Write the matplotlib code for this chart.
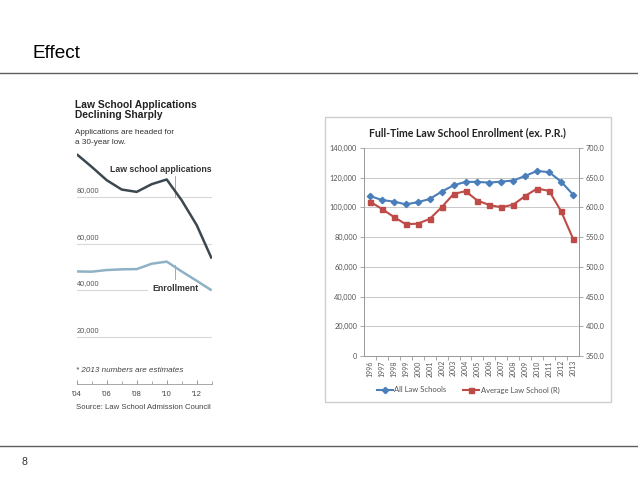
import matplotlib
matplotlib.use("Agg")
import matplotlib.pyplot as plt
from matplotlib.patches import Rectangle
from matplotlib.lines import Line2D
from matplotlib.ticker import FuncFormatter

# left chart (NYT style): applications vs first-year enrollment
nyt_years = [2004, 2005, 2006, 2007, 2008, 2009, 2010, 2011, 2012, 2013]
applications = [98200, 92800, 87100, 83100, 82100, 85400, 87400, 78500, 67900, 53600]
enrollment = [48100, 48000, 48700, 49000, 49100, 51400, 52300, 48100, 44100, 40000]
nyt_ticks = [2004, 2006, 2008, 2010, 2012]
nyt_ticklabels = ["'04", "'06", "'08", "'10", "'12"]

# right chart (Excel style): full-time enrollment
years = ["1996", "1997", "1998", "1999", "2000", "2001", "2002", "2003", "2004",
         "2005", "2006", "2007", "2008", "2009", "2010", "2011", "2012", "2013"]
all_law = [107700, 105000, 103900, 102100, 103500, 105700, 110600, 114900, 117200,
           117200, 116700, 117400, 118100, 121200, 124600, 123700, 117400, 108600]
avg_school = [609.8, 597.5, 584.0, 571.7, 572.7, 580.6, 600.3, 622.7, 627.3,
              611.5, 604.0, 600.3, 604.7, 619.4, 631.7, 627.8, 593.6, 547.5]

W, H = 638, 479
fig = plt.figure(figsize=(W / 100, H / 100), dpi=100)


def fx(px):
    return px / W


def fy(py):
    return 1 - py / H


# slide frame
fig.add_artist(Line2D([0, 1], [fy(72.5), fy(72.5)], color="#5f5f5f", lw=1.0))
fig.add_artist(Line2D([0, 1], [fy(445.5), fy(445.5)], color="#5f5f5f", lw=1.0))
fig.text(fx(33), fy(58), "Effect", fontsize=13.7, family="Liberation Sans", va="baseline")
fig.text(fx(22), fy(462), "8", fontsize=7.5, family="Liberation Sans", va="center", color="#333333")

# ---------------- left chart ----------------
nyt_font = "Liberation Sans"
fig.text(fx(75), fy(105), "Law School Applications", fontsize=7.4, fontweight="bold",
         family=nyt_font, va="center", color="#222222")
fig.text(fx(75), fy(115.5), "Declining Sharply", fontsize=7.4, fontweight="bold",
         family=nyt_font, va="center", color="#222222")
fig.text(fx(75), fy(132.5), "Applications are headed for", fontsize=5.9,
         family=nyt_font, va="center", color="#333333")
fig.text(fx(75), fy(143), "a 30-year low.", fontsize=5.9,
         family=nyt_font, va="center", color="#333333")

left, right, top, bot = 76.7, 211.7, 150.0, 384.0
axl = fig.add_axes([fx(left), fy(bot), fx(right - left), (bot - top) / H])
axl.set_xlim(2004, 2013)
axl.set_ylim(0, 100000)
for s in ["top", "right", "left"]:
    axl.spines[s].set_visible(False)
axl.spines["bottom"].set_color("#9a9a9a")
axl.spines["bottom"].set_linewidth(0.6)
axl.set_yticks([])
axl.set_xticks(nyt_ticks)
axl.set_xticks(nyt_years, minor=True)
axl.set_xticklabels(nyt_ticklabels, fontsize=5.5, family=nyt_font, color="#444444")
axl.tick_params(axis="x", which="major", direction="in", length=3, color="#8a8a8a", width=0.6, pad=5)
axl.tick_params(axis="x", which="minor", direction="in", length=2, color="#8a8a8a", width=0.5)

for val, xmax in [(80000, 1.0), (60000, 1.0), (40000, 0.52), (20000, 1.0)]:
    axl.axhline(val, xmin=0, xmax=xmax, color="#d8d8d8", lw=0.8, zorder=1)
    axl.text(2004, val + 1300, f"{val:,}", fontsize=5.3, family=nyt_font,
             color="#555555", va="bottom", ha="left")

axl.plot(nyt_years, applications, color="#3c4850", lw=1.8, zorder=3, solid_capstyle="butt")
axl.plot(nyt_years, enrollment, color="#8fb1c6", lw=1.8, zorder=3, solid_capstyle="butt")

axl.text(2006.2, 91800, "Law school applications", fontsize=6.3, fontweight="bold",
         family=nyt_font, color="#333333", va="center")
axl.plot([2010.55, 2010.55], [88700, 80000], color="#9a9a9a", lw=0.6, zorder=2)
axl.text(2009.05, 41000, "Enrollment", fontsize=6.3, fontweight="bold",
         family=nyt_font, color="#333333", va="center")
axl.plot([2010.55, 2010.55], [50800, 45000], color="#9a9a9a", lw=0.6, zorder=2)

fig.text(fx(76), fy(370), "* 2013 numbers are estimates", fontsize=5.8, style="italic",
         family=nyt_font, color="#444444", va="center")
fig.text(fx(76), fy(407.5), "Source: Law School Admission Council", fontsize=5.6,
         family=nyt_font, color="#444444", va="center")

# ---------------- right chart ----------------
xl_font = "Lato"
fig.add_artist(Rectangle((fx(325), fy(402)), fx(611 - 325), (402 - 117) / H,
                         fill=False, edgecolor="#cfcfcf", lw=1.0))
fig.text(fx(467), fy(133), "Full-Time Law School Enrollment (ex. P.R.)", fontsize=7.6,
         fontweight="bold", family=xl_font, ha="center", va="center", color="#222222")

left, right, top, bot = 364.0, 579.0, 148.0, 356.0
ax = fig.add_axes([fx(left), fy(bot), fx(right - left), (bot - top) / H])
ax2 = ax.twinx()
x = list(range(len(years)))
ax.set_xlim(-0.5, len(years) - 0.5)
ax.set_ylim(0, 140000)
ax.set_yticks(range(0, 140001, 20000))
ax.yaxis.set_major_formatter(FuncFormatter(lambda v, p: f"{int(v):,}"))
ax2.set_ylim(350, 700)
ax2.set_yticks(range(350, 701, 50))
ax2.yaxis.set_major_formatter(FuncFormatter(lambda v, p: f"{v:.1f}"))
ax.grid(axis="y", color="#c8c8c8", lw=0.7)
ax.set_axisbelow(True)
for a in (ax, ax2):
    a.spines["top"].set_visible(False)
    for s in ["left", "right", "bottom"]:
        a.spines[s].set_color("#9a9a9a")
        a.spines[s].set_linewidth(0.7)
    a.tick_params(axis="y", length=3, color="#9a9a9a", width=0.6, labelsize=5.3,
                  labelcolor="#555555", pad=2)
ax.set_xticks(x)
ax.set_xticklabels(years, rotation=90, fontsize=5.0, family=xl_font, color="#555555")
ax.set_xticks([i + 0.5 for i in x[:-1]], minor=True)
ax.tick_params(axis="x", which="major", length=0, pad=3)
ax.tick_params(axis="x", which="minor", length=3, color="#9a9a9a", width=0.6)
for lab in ax.get_yticklabels() + ax2.get_yticklabels():
    lab.set_family(xl_font)

l1, = ax.plot(x, all_law, color="#4a7ebb", lw=1.5, marker="D", ms=3.2,
              markeredgecolor="#4a7ebb", zorder=3, label="All Law Schools")
l2, = ax2.plot(x, avg_school, color="#be4b48", lw=1.5, marker="s", ms=3.6,
               markeredgecolor="#be4b48", zorder=3, label="Average Law School (R)")
fig.legend(handles=[l1, l2], loc="center", bbox_to_anchor=(fx(468), fy(390)), ncol=2,
           frameon=False, prop={"family": xl_font, "size": 5.5}, handlelength=2.1,
           columnspacing=2.2, handletextpad=0.2, labelcolor="#555555")

fig.savefig("out.png", dpi=100)
